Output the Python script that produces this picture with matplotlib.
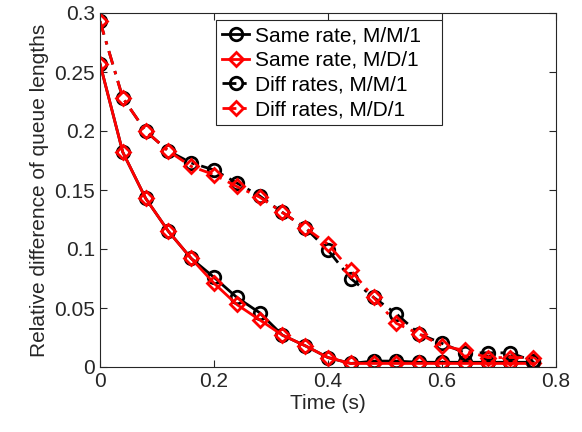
import matplotlib
matplotlib.use("Agg")
import matplotlib.pyplot as plt
import numpy as np

plt.rcParams['font.family'] = ['Liberation Sans', 'DejaVu Sans']

time = [0.00, 0.04, 0.08, 0.12, 0.16, 0.20, 0.24, 0.28, 0.32, 0.36,
        0.40, 0.44, 0.48, 0.52, 0.56, 0.60, 0.64, 0.68, 0.72, 0.76]

same_mm1 = [0.257, 0.182, 0.143, 0.115, 0.092, 0.076, 0.059, 0.046, 0.027, 0.018,
            0.008, 0.003, 0.005, 0.005, 0.004, 0.004, 0.004, 0.004, 0.004, 0.004]
same_md1 = [0.257, 0.182, 0.143, 0.115, 0.092, 0.071, 0.053, 0.040, 0.027, 0.018,
            0.008, 0.003, 0.003, 0.003, 0.003, 0.003, 0.003, 0.003, 0.003, 0.003]
diff_mm1 = [0.293, 0.228, 0.200, 0.183, 0.173, 0.167, 0.156, 0.145, 0.131, 0.118,
            0.099, 0.075, 0.059, 0.045, 0.028, 0.020, 0.012, 0.012, 0.012, 0.005]
diff_md1 = [0.293, 0.228, 0.200, 0.183, 0.170, 0.163, 0.153, 0.144, 0.131, 0.118,
            0.104, 0.082, 0.059, 0.037, 0.028, 0.018, 0.014, 0.008, 0.008, 0.008]

labels = ['Same rate, M/M/1', 'Same rate, M/D/1', 'Diff rates, M/M/1', 'Diff rates, M/D/1']
xticks = [0, 0.2, 0.4, 0.6, 0.8]
xticklabels = ['0', '0.2', '0.4', '0.6', '0.8']
yticks = [0, 0.05, 0.1, 0.15, 0.2, 0.25, 0.3]
yticklabels = ['0', '0.05', '0.1', '0.15', '0.2', '0.25', '0.3']

fig = plt.figure(figsize=(5.82, 4.32), dpi=100)
ax = fig.add_axes([100/582, 65/432, 456/582, 354/432])

lw = 2.0
ms_c = 9
ms_d = 7.5
mew = 2.0
dashdot = (0, (5, 2.5, 1.2, 2.5))
ax.plot(time, same_mm1, '-', color='black', marker='o', mfc='none', mec='black',
        ms=ms_c, mew=mew, lw=lw, label=labels[0])
ax.plot(time, same_md1, '-', color='red', marker='D', mfc='none', mec='red',
        ms=ms_d, mew=mew, lw=lw, label=labels[1])
ax.plot(time, diff_mm1, linestyle=dashdot, color='black', marker='o', mfc='none', mec='black',
        ms=ms_c, mew=mew, lw=lw, label=labels[2])
ax.plot(time, diff_md1, linestyle=dashdot, color='red', marker='D', mfc='none', mec='red',
        ms=ms_d, mew=mew, lw=lw, label=labels[3])

ax.set_xlim(0, 0.8)
ax.set_ylim(0, 0.3)
ax.set_xticks(xticks)
ax.set_xticklabels(xticklabels)
ax.set_yticks(yticks)
ax.set_yticklabels(yticklabels)
axcol = '#262626'
ax.tick_params(direction='in', top=True, right=True, length=5, width=0.8,
               labelsize=15, colors=axcol, labelcolor=axcol)
for s in ax.spines.values():
    s.set_color(axcol)
    s.set_linewidth(0.8)

ax.set_xlabel('Time (s)', fontsize=15, color=axcol, labelpad=2)
ax.set_ylabel('Relative difference of queue lengths', fontsize=15, color=axcol, labelpad=4)

leg = ax.legend(loc='upper left', bbox_to_anchor=(0.254, 0.686, 0.496, 0.294),
                mode='expand', fontsize=15,
                frameon=True, fancybox=False, edgecolor=axcol, framealpha=1,
                handlelength=1.3, handletextpad=0.3, borderpad=0.3,
                labelspacing=0.27, borderaxespad=0)
leg.get_frame().set_linewidth(0.8)

fig.savefig('out.png', dpi=100)
